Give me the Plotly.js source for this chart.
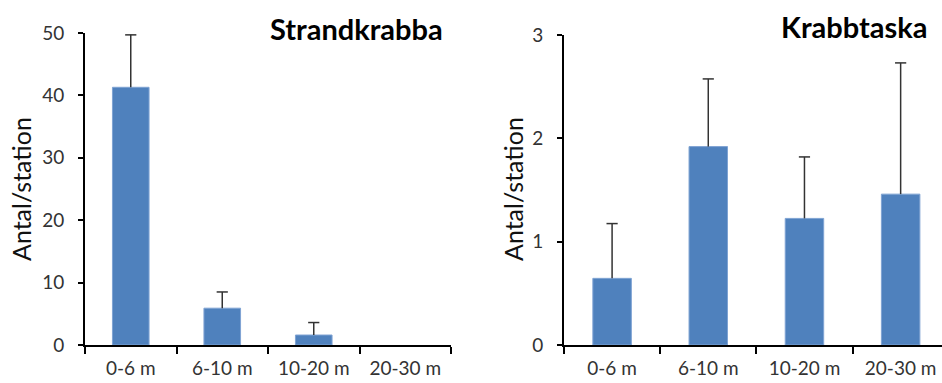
<!DOCTYPE html>
<html><head><meta charset="utf-8">
<script src="https://cdn.plot.ly/plotly-3.0.1.min.js"></script>
<style>html,body{margin:0;padding:0;background:#fff}#chart{width:942px;height:383px}</style>
</head><body><div id="chart"></div>
<script>
const categories = ["0-6 m", "6-10 m", "10-20 m", "20-30 m"];
const strandkrabbaMean = [41.3, 5.9, 1.6, 0];
const strandkrabbaErr = [8.4, 2.6, 2.0, 0];
const krabbtaskaMean = [0.645, 1.92, 1.225, 1.46];
const krabbtaskaErr = [0.53, 0.655, 0.595, 1.27];
const yTicksLeft = [0, 10, 20, 30, 40, 50];
const yTicksRight = [0, 1, 2, 3];

const W = 942, H = 383;
const px = v => v / W, py = v => 1 - v / H;
const barColor = '#4F81BD';
const errColor = '#333';
const tickFont = {family:'Lato, sans-serif', size:19, color:'#333'};

function barTrace(mean, err, xa, ya) {
  return {type:'bar', x:categories, y:mean, xaxis:xa, yaxis:ya,
    marker:{color:barColor, line:{color:'#7FA3D3', width:mean.map(m => m > 0 ? 1 : 0)}},
    error_y:{type:'data', symmetric:false, array:err, arrayminus:err.map(() => 0),
      thickness:1.5, width:0, color:errColor, visible:true},
    hoverinfo:'none'};
}
function capTrace(mean, err, xa, ya) {
  return {type:'scatter', mode:'markers', x:categories,
    y:mean.map((m, i) => err[i] > 0 ? m + err[i] : null), xaxis:xa, yaxis:ya,
    marker:{symbol:'line-ew', size:8, line:{color:errColor, width:1.5}},
    hoverinfo:'none', cliponaxis:false};
}

const traces = [
  barTrace(strandkrabbaMean, strandkrabbaErr, 'x', 'y'),
  barTrace(krabbtaskaMean, krabbtaskaErr, 'x2', 'y2'),
  capTrace(strandkrabbaMean, strandkrabbaErr, 'x', 'y'),
  capTrace(krabbtaskaMean, krabbtaskaErr, 'x2', 'y2')
];

const xBase = {type:'category', showline:true, linecolor:'#000', linewidth:2, ticks:'outside',
  tickson:'boundaries', ticklen:7, tickwidth:2, tickcolor:'#000', showgrid:false, zeroline:false,
  tickfont:tickFont, ticklabelstandoff:5, fixedrange:true};
const yBase = {showline:true, linecolor:'#000', linewidth:2, ticks:'outside', ticklen:5, tickwidth:2,
  tickcolor:'#000', showgrid:false, zeroline:false, tickfont:tickFont, ticklabelstandoff:10, fixedrange:true};

const layout = {
  width:W, height:H, margin:{l:0, r:0, t:0, b:0}, showlegend:false,
  paper_bgcolor:'#fff', plot_bgcolor:'rgba(0,0,0,0)', bargap:0.6,
  xaxis:Object.assign({}, xBase, {domain:[px(85), px(451)], range:[-0.5, 3.5], anchor:'y'}),
  yaxis:Object.assign({}, yBase, {domain:[py(345), py(33)], range:[0, 50], tickvals:yTicksLeft, anchor:'x'}),
  xaxis2:Object.assign({}, xBase, {domain:[px(564), 1], range:[-0.5, 3.43], anchor:'y2'}),
  yaxis2:Object.assign({}, yBase, {domain:[py(345), py(35)], range:[0, 3], tickvals:yTicksRight, anchor:'x2'}),
  annotations:[
    {text:'<b>Strandkrabba</b>', xref:'paper', yref:'paper', x:px(445), y:py(28), xanchor:'right', yanchor:'middle',
     showarrow:false, font:{family:'Lato, sans-serif', size:29, color:'#000'}},
    {text:'<b>Krabbtaska</b>', xref:'paper', yref:'paper', x:px(929), y:py(26), xanchor:'right', yanchor:'middle',
     showarrow:false, font:{family:'Lato, sans-serif', size:29, color:'#000'}},
    {text:'Antal/station', xref:'paper', yref:'paper', x:px(21), y:py(189), textangle:-90, xanchor:'center', yanchor:'middle',
     showarrow:false, font:{family:'Lato, sans-serif', size:25, color:'#111'}},
    {text:'Antal/station', xref:'paper', yref:'paper', x:px(513), y:py(189), textangle:-90, xanchor:'center', yanchor:'middle',
     showarrow:false, font:{family:'Lato, sans-serif', size:25, color:'#111'}}
  ]
};
Plotly.newPlot('chart', traces, layout, {displayModeBar:false, staticPlot:true});
</script></body></html>
